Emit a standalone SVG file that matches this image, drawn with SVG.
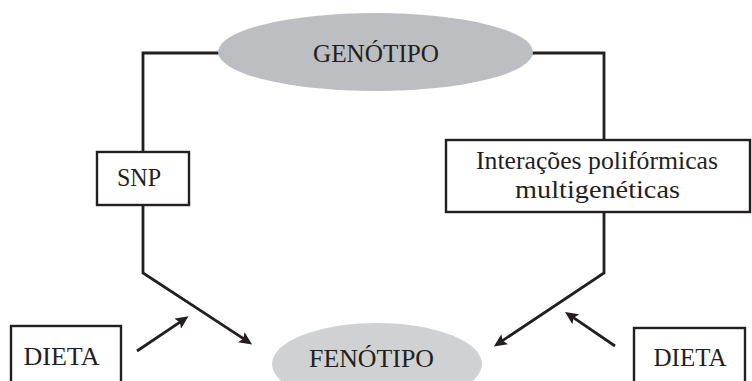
<svg xmlns="http://www.w3.org/2000/svg" width="752" height="381" viewBox="0 0 752 381">
  <style>
    text { font-family: 'Liberation Serif', 'Times New Roman', 'DejaVu Serif', serif; font-size: 26px; fill: #231f20; text-anchor: middle; }
    .box { fill: #ffffff; stroke: #231f20; stroke-width: 2.4; }
    .conn { fill: none; stroke: #231f20; stroke-width: 2.8; stroke-linejoin: miter; }
  </style>
  <defs>
    <marker id="arrow" viewBox="0 0 13 12" refX="9" refY="6" markerWidth="13" markerHeight="12" markerUnits="userSpaceOnUse" orient="auto">
      <path d="M0,0 L13,6 L0,12 L2.5,6 Z" fill="#231f20"/>
    </marker>
  </defs>
  <rect width="752" height="381" fill="#ffffff"/>

  <g id="connectors">
    <path class="conn" d="M219,53 H143 V152"/>
    <path class="conn" d="M143,205 V273 L248.8,342.2" marker-end="url(#arrow)"/>
    <path class="conn" d="M532,53 H604 V140"/>
    <path class="conn" d="M604,212 V273 L497.2,344.2" marker-end="url(#arrow)"/>
    <path class="conn" d="M137,351 L185.2,318.6" marker-end="url(#arrow)"/>
    <path class="conn" d="M615,346 L568.3,314.2" marker-end="url(#arrow)"/>
  </g>

  <g id="genotipo">
    <ellipse cx="375.5" cy="52" rx="157.5" ry="39" fill="#bdbec1"/>
    <text x="376" y="62" textLength="126" lengthAdjust="spacingAndGlyphs">GENÓTIPO</text>
  </g>

  <g id="snp">
    <rect class="box" x="97" y="152" width="92" height="53"/>
    <text x="139" y="186" textLength="44" lengthAdjust="spacingAndGlyphs">SNP</text>
  </g>

  <g id="interacoes">
    <rect class="box" x="446" y="140" width="304" height="72"/>
    <text x="597" y="169" textLength="242" lengthAdjust="spacingAndGlyphs">Interações polifórmicas</text>
    <text x="597.5" y="198" textLength="165" lengthAdjust="spacingAndGlyphs">multigenéticas</text>
  </g>

  <g id="fenotipo">
    <ellipse cx="377" cy="364" rx="105" ry="41" fill="#d0d1d3"/>
    <text x="371.5" y="367" textLength="125" lengthAdjust="spacingAndGlyphs">FENÓTIPO</text>
  </g>

  <g id="dieta-esquerda">
    <rect class="box" x="11" y="326" width="110" height="60"/>
    <text x="61.5" y="365" textLength="76" lengthAdjust="spacingAndGlyphs">DIETA</text>
  </g>

  <g id="dieta-direita">
    <rect class="box" x="634" y="328" width="111" height="60"/>
    <text x="690" y="366" textLength="73" lengthAdjust="spacingAndGlyphs">DIETA</text>
  </g>
</svg>
